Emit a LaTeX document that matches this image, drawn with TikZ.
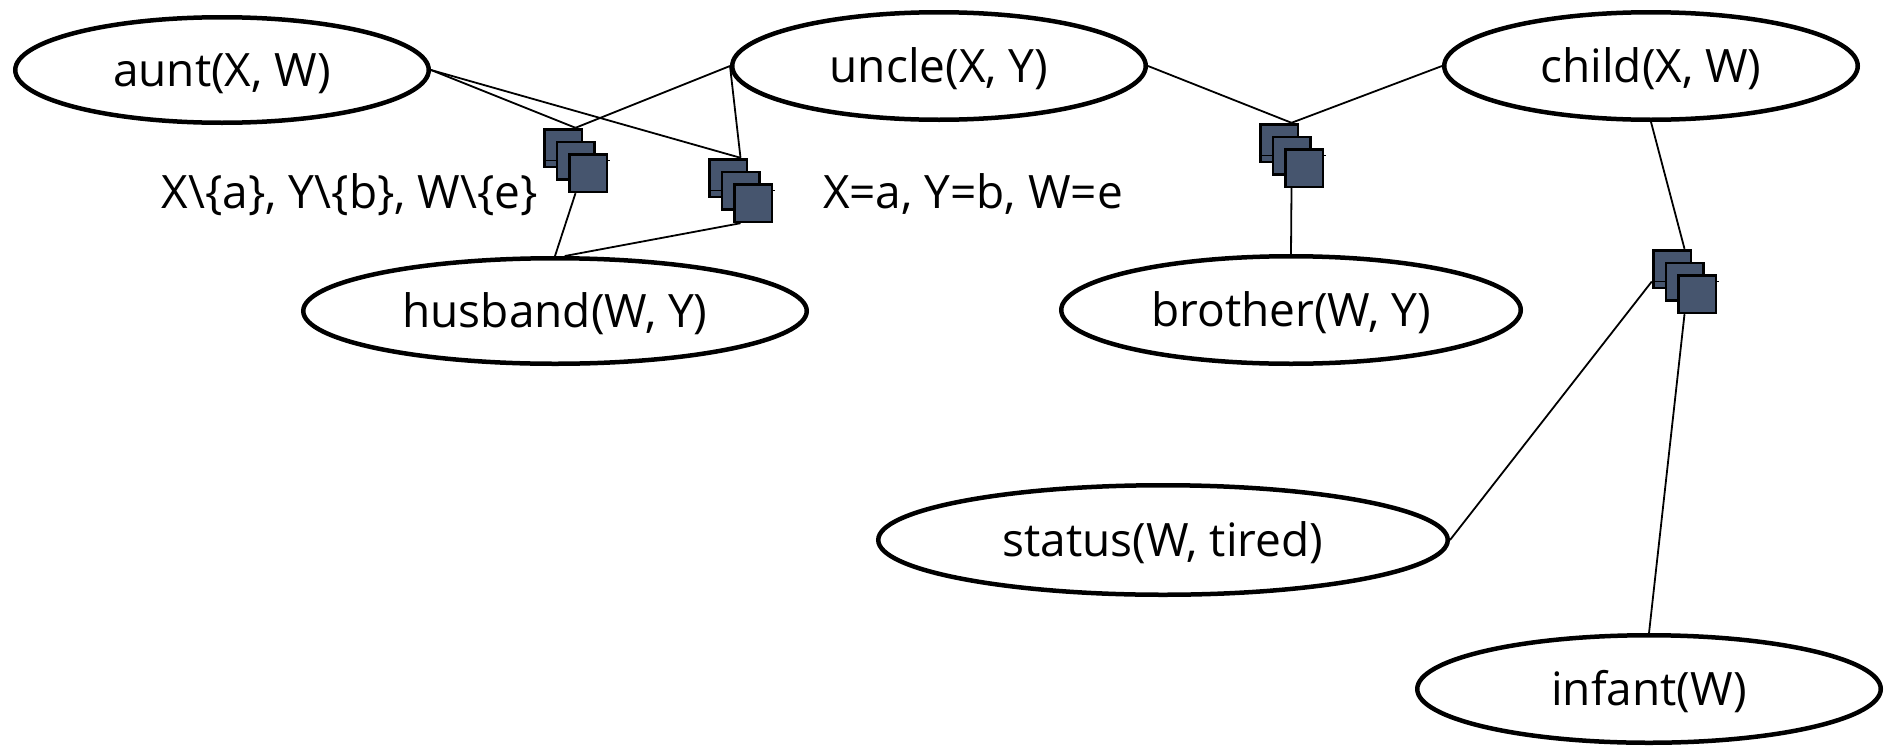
\documentclass[tikz,border=0pt]{standalone}
\usepackage{fontspec}
\setmainfont{Open Sans}
\usetikzlibrary{shapes.geometric,calc}

\definecolor{factorfill}{RGB}{70,85,110}

\tikzset{
  pred/.style={ellipse, draw, line width=4.5pt, fill=white, inner sep=0pt,
    text height=34pt, text depth=1.2pt,
    font=\fontsize{46}{55}\selectfont},
  facbox/.style={rectangle, draw=none, minimum size=65pt, inner sep=0pt},
  facsq/.style={rectangle, draw, line width=2.5pt, fill=factorfill,
    minimum size=37.5pt, inner sep=0pt},
  midline/.style={line width=1.8pt},
  link/.style={line width=1.8pt},
  caption/.style={anchor=base, inner sep=0pt, font=\fontsize{46}{55}\selectfont},
}

% a factor: three stacked squares inside a named bounding box
\newcommand\drawfactor[2]{%
  \node[facbox] (#1) at (#2) {};
  \node[facsq] (#1a) at ([shift={(-12.5,-12.5)}]#1.center) {};
  \draw[midline] (#1.west) -- ([xshift=2pt]#1.east);
  \node[facsq] (#1b) at (#1.center) {};
  \node[facsq] (#1c) at ([shift={(12.5,12.5)}]#1.center) {};
}

\begin{document}
\begin{tikzpicture}[x=1pt, y=-1pt]
\useasboundingbox (0,0) rectangle (1885,747);

% predicate nodes
\node[pred, minimum width=413.5pt, minimum height=105.5pt] (aunt) at (222,70) {aunt(X, W)};
\node[pred, minimum width=413.5pt, minimum height=107.5pt] (uncle) at (939,66) {uncle(X, Y)};
\node[pred, minimum width=413.5pt, minimum height=107.5pt] (child) at (1651,66) {child(X, W)};
\node[pred, minimum width=503.5pt, minimum height=105.5pt] (husband) at (555,311) {husband(W, Y)};
\node[pred, minimum width=459.5pt, minimum height=107.5pt] (brother) at (1291,310) {brother(W, Y)};
\node[pred, minimum width=569.5pt, minimum height=109.5pt] (status) at (1163,540) {status(W, tired)};
\node[pred, minimum width=463.5pt, minimum height=107.5pt] (infant) at (1649,689) {infant(W)};

% connectors (drawn first so the factors sit on top)
\coordinate (pA) at (575.5,160.5);
\coordinate (pB) at (740.5,190.5);
\coordinate (pC) at (1291.5,155.5);
\coordinate (pD) at (1684.5,281.5);
\node[facbox] (gA) at (pA) {};
\node[facbox] (gB) at (pB) {};
\node[facbox] (gC) at (pC) {};
\node[facbox] (gD) at (pD) {};

\draw[link] (aunt.east) -- (gA.north);
\draw[link] (aunt.east) -- (gB.north);
\draw[link] (uncle.west) -- (gA.north);
\draw[link] (uncle.west) -- (gB.north);
\draw[link] (gA.south) -- (husband.north);
\draw[link] (gB.south) -- (husband.80);
\draw[link] (uncle.east) -- (gC.north);
\draw[link] (child.west) -- (gC.north);
\draw[link] (gC.south) -- (brother.north);
\draw[link] (child.south) -- (gD.north);
\draw[link] (gD.west) -- (status.east);
\draw[link] (gD.south) -- (infant.north);

% factors
\drawfactor{fA}{pA}
\drawfactor{fB}{pB}
\drawfactor{fC}{pC}
\drawfactor{fD}{pD}

% evidence labels
\node[caption] (neg) at (350,208) {X\textbackslash\{a\}, Y\textbackslash\{b\}, W\textbackslash\{e\}};
\node[caption] (pos) at (973,208) {X=a, Y=b, W=e};
\end{tikzpicture}
\end{document}
